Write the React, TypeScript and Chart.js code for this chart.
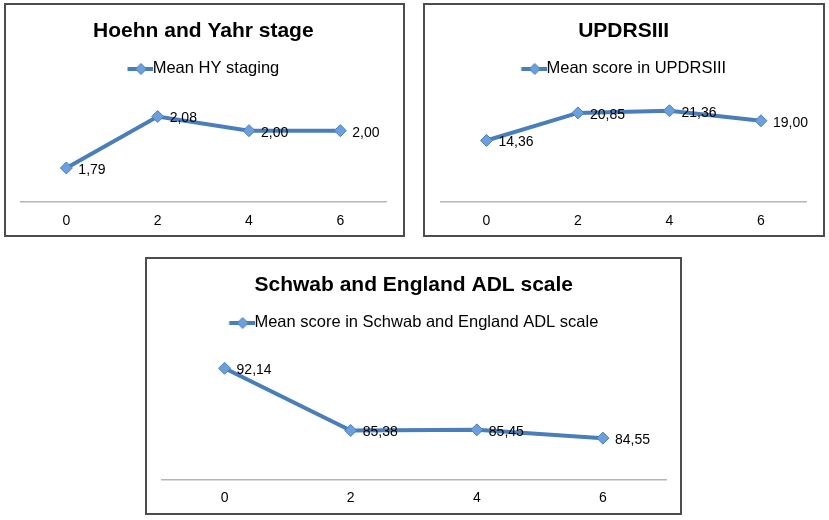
import React, { useEffect, useRef } from 'react'
import Chart, { ChartConfiguration, Plugin } from 'chart.js/auto'

// weeks of follow-up and mean scores
const weeks = ['0', '2', '4', '6']
const hyValues = [1.79, 2.08, 2.0, 2.0]
const updrsValues = [14.36, 20.85, 21.36, 19.0]
const seValues = [92.14, 85.38, 85.45, 84.55]

const FONT = '"Liberation Sans", Arial, Helvetica, sans-serif'
const LINE = '#4a7ebb'
const MARK = '#6c9fdd'

// line + diamond swatch for the legend (drawn right of its centre so it touches the text)
function legendSwatch(): HTMLCanvasElement {
  const c = document.createElement('canvas')
  c.width = 34
  c.height = 14
  const g = c.getContext('2d')!
  g.strokeStyle = LINE
  g.lineWidth = 4
  g.beginPath()
  g.moveTo(8.5, 7)
  g.lineTo(34, 7)
  g.stroke()
  const cx = 22
  g.beginPath()
  g.moveTo(cx, 1.5)
  g.lineTo(cx + 5.5, 7)
  g.lineTo(cx, 12.5)
  g.lineTo(cx - 5.5, 7)
  g.closePath()
  g.fillStyle = MARK
  g.fill()
  g.lineWidth = 1
  g.stroke()
  return c
}

// value labels to the right of each point, with a decimal comma
const pointLabels: Plugin<'line'> = {
  id: 'pointLabels',
  afterDatasetsDraw(chart) {
    const { ctx } = chart
    chart.data.datasets.forEach((ds, i) => {
      chart.getDatasetMeta(i).data.forEach((pt, j) => {
        const v = ds.data[j] as number
        ctx.save()
        ctx.font = `14px ${FONT}`
        ctx.fillStyle = '#000'
        ctx.textAlign = 'left'
        ctx.textBaseline = 'middle'
        ctx.fillText(v.toFixed(2).replace('.', ','), pt.x + 12, pt.y + 2)
        ctx.restore()
      })
    })
  }
}

// extra room under the legend
const legendGap: Plugin<'line'> = {
  id: 'legendGap',
  beforeLayout(chart, _args, opts: any) {
    const legend: any = (chart as any).legend
    if (!legend || legend._gapPatched) return
    const fit = legend.fit.bind(legend)
    legend.fit = () => {
      fit()
      legend.height += opts.gap || 0
    }
    legend._gapPatched = true
  }
}

interface PanelProps {
  title: string
  series: string
  values: number[]
  yMin: number
  yMax: number
  left: number
  top: number
  width: number
  height: number
  padLeft: number
  padRight: number
  gap: number
  axisHeight: number
  tickPad: number
}

const Panel: React.FC<PanelProps> = (p) => {
  const chartRef = useRef<HTMLCanvasElement | null>(null)
  const w = p.width - 4
  const h = p.height - 4

  useEffect(() => {
    if (!chartRef.current) return
    const config: ChartConfiguration<'line'> = {
      type: 'line',
      data: {
        labels: weeks,
        datasets: [
          {
            label: p.series,
            data: p.values,
            borderColor: LINE,
            borderWidth: 4,
            tension: 0,
            pointStyle: 'rectRot',
            pointRadius: 6,
            pointBackgroundColor: MARK,
            pointBorderColor: LINE,
            pointBorderWidth: 1
          }
        ]
      },
      options: {
        responsive: false,
        animation: false,
        layout: { padding: { left: p.padLeft, right: p.padRight, top: 0, bottom: 0 } },
        scales: {
          x: {
            offset: true,
            grid: { display: false, drawTicks: false },
            border: { display: true, color: '#b5b5b5', width: 1.5 },
            ticks: { color: '#000', padding: p.tickPad, font: { family: FONT, size: 14 } },
            afterFit: (scale) => {
              scale.height = p.axisHeight
            }
          },
          y: { display: false, min: p.yMin, max: p.yMax }
        },
        plugins: {
          title: {
            display: true,
            text: p.title,
            color: '#000',
            font: { family: FONT, size: 21, weight: 'bold' },
            padding: { top: 14, bottom: 6.5 }
          },
          legend: {
            display: true,
            position: 'top',
            labels: {
              color: '#000',
              font: { family: FONT, size: 16.5 },
              padding: 10,
              usePointStyle: true,
              pointStyleWidth: 17,
              generateLabels: (chart) =>
                chart.data.datasets.map((ds, i) => ({
                  text: ds.label as string,
                  pointStyle: legendSwatch(),
                  fillStyle: MARK,
                  strokeStyle: LINE,
                  lineWidth: 0,
                  datasetIndex: i
                }))
            }
          },
          tooltip: { enabled: false },
          // @ts-ignore
          legendGap: { gap: p.gap }
        }
      },
      plugins: [pointLabels, legendGap]
    }
    const chart = new Chart(chartRef.current, config)
    return () => {
      chart.destroy()
    }
  }, [])

  return (
    <div
      style={{
        position: 'absolute',
        left: p.left,
        top: p.top,
        width: p.width,
        height: p.height,
        boxSizing: 'border-box',
        border: '2px solid #4d4d4d',
        background: '#fff'
      }}
    >
      <canvas ref={chartRef} width={w} height={h} style={{ display: 'block', width: w, height: h }} />
    </div>
  )
}

export default function App() {
  return (
    <div style={{ position: 'absolute', left: 0, top: 0, width: 829, height: 520, background: '#fff' }}>
      <Panel
        title="Hoehn and Yahr stage"
        series="Mean HY staging"
        values={hyValues}
        yMin={1.6}
        yMax={2.2}
        left={4}
        top={3}
        width={401}
        height={234}
        padLeft={14.7}
        padRight={17}
        gap={8}
        axisHeight={33.3}
        tickPad={10.6}
      />
      <Panel
        title="UPDRSIII"
        series="Mean score in UPDRSIII"
        values={updrsValues}
        yMin={0}
        yMax={25}
        left={423}
        top={3}
        width={402}
        height={234}
        padLeft={15.7}
        padRight={16.3}
        gap={8}
        axisHeight={33.3}
        tickPad={10.6}
      />
      <Panel
        title="Schwab and England ADL scale"
        series="Mean score in Schwab and England ADL scale"
        values={seValues}
        yMin={80}
        yMax={94}
        left={145}
        top={257}
        width={537}
        height={258}
        padLeft={14.5}
        padRight={14}
        gap={10}
        axisHeight={33}
        tickPad={9.6}
      />
    </div>
  )
}
